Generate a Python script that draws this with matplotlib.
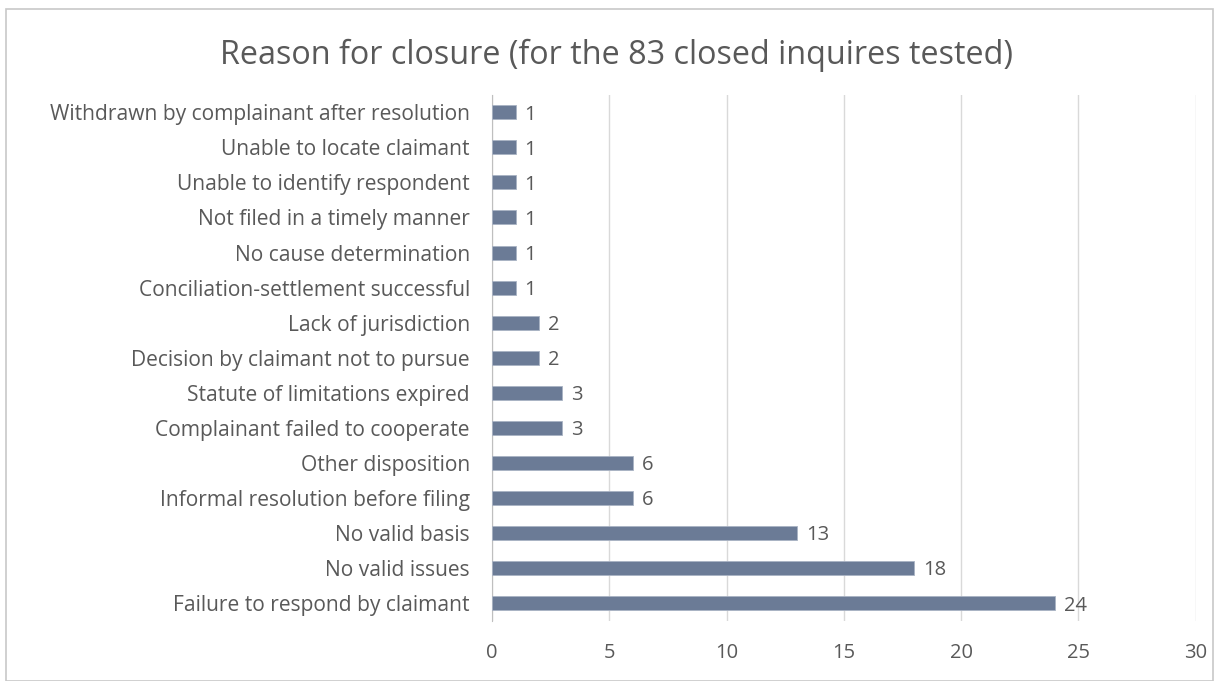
import matplotlib
matplotlib.use("Agg")
import matplotlib.pyplot as plt
from matplotlib.patches import Rectangle

# Data, bottom to top as drawn
reasons = [
    "Failure to respond by claimant",
    "No valid issues",
    "No valid basis",
    "Informal resolution before filing",
    "Other disposition",
    "Complainant failed to cooperate",
    "Statute of limitations expired",
    "Decision by claimant not to pursue",
    "Lack of jurisdiction",
    "Conciliation-settlement successful",
    "No cause determination",
    "Not filed in a timely manner",
    "Unable to identify respondent",
    "Unable to locate claimant",
    "Withdrawn by complainant after resolution",
]
counts = [24, 18, 13, 6, 6, 3, 3, 2, 2, 1, 1, 1, 1, 1, 1]
x_ticks = [0, 5, 10, 15, 20, 25, 30]

text_color = "#595959"
bar_color = "#6B7B96"
plt.rcParams["font.family"] = ["Open Sans", "DejaVu Sans"]

fig = plt.figure(figsize=(12.15, 6.81), dpi=100)
fig.patches.append(Rectangle((0.005, 0.0), 0.993, 0.987, transform=fig.transFigure,
                             fill=False, edgecolor="#C8C8C8", linewidth=1.2))
ax = fig.add_axes([0.405, 0.0888, 0.579, 0.772])

y = range(len(reasons))
ax.barh(y, counts, height=0.4, color=bar_color, edgecolor="#A9B3C4", linewidth=0.6, zorder=3)
for yi, c in zip(y, counts):
    ax.text(c + 0.38, yi, str(c), va="center_baseline", ha="left", fontsize=14.5, color=text_color)

ax.set_xlim(0, 30)
ax.set_ylim(-0.5, len(reasons) - 0.5)
ax.set_xticks(x_ticks)
ax.set_yticks(list(y))
ax.set_yticklabels(reasons, va="center_baseline", fontsize=15.1)
ax.tick_params(axis="both", length=0, labelsize=14.5, colors=text_color)
ax.tick_params(axis="y", labelsize=15.1, pad=16)
ax.tick_params(axis="x", pad=16)
ax.grid(axis="x", color="#D9D9D9", linewidth=1, zorder=0)
for s in ["top", "right", "bottom"]:
    ax.spines[s].set_visible(False)
ax.spines["left"].set_color("#BFBFBF")

fig.text(0.507, 0.918, "Reason for closure (for the 83 closed inquires tested)",
         ha="center", va="center", fontsize=23.3, color=text_color)

fig.savefig("out.png", dpi=100)
